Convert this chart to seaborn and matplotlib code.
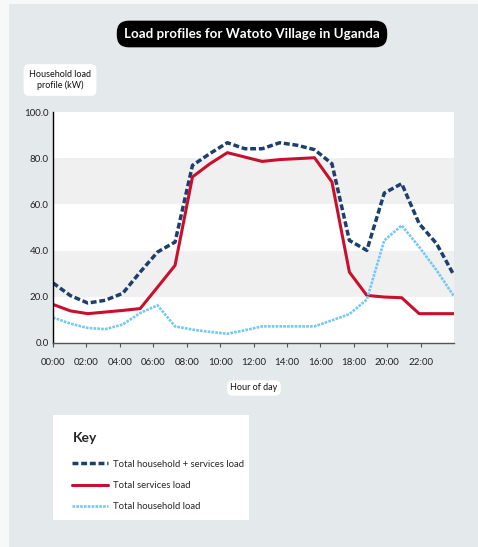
import matplotlib.pyplot as plt
import seaborn as sns
import pandas as pd
from matplotlib.patches import Rectangle

# ---------------- data ---------------- #
hours = list(range(24))
total_load = [26.0, 20.5, 17.3, 18.5, 21.5, 30.7, 39.4, 43.7, 76.9, 82.0, 86.7, 84.1,
              84.1, 86.7, 85.6, 83.7, 77.6, 44.4, 40.1, 64.9, 69.0, 51.7, 43.0, 29.3]
services_load = [16.7, 13.9, 12.7, 13.4, 14.1, 14.9, 24.2, 33.6, 71.9, 77.6, 82.4, 80.5,
                 78.6, 79.4, 79.8, 80.2, 69.7, 30.7, 20.6, 19.9, 19.6, 12.7, 12.7, 12.7]
household_load = [11.0, 8.4, 6.5, 6.0, 8.0, 13.0, 16.3, 7.2, 5.8, 4.8, 4.0, 5.5,
                  7.2, 7.2, 7.2, 7.2, 9.8, 12.5, 18.8, 44.4, 50.9, 41.6, 31.5, 20.2]
tick_labels = ["00:00", "02:00", "04:00", "06:00", "08:00", "10:00",
               "12:00", "14:00", "16:00", "18:00", "20:00", "22:00"]
y_ticks = [0, 20, 40, 60, 80, 100]
series_names = ["Total household + services load", "Total services load", "Total household load"]

df = pd.DataFrame({"hour": hours, series_names[0]: total_load,
                   series_names[1]: services_load, series_names[2]: household_load})

sns.set_style("white")
plt.rcParams["font.family"] = ["Lato", "DejaVu Sans"]

PANEL = "#e4e9ec"
NAVY = "#1d3f6e"
RED = "#c8102e"
LIGHT = "#74c8f4"

fig = plt.figure(figsize=(4.78, 5.47), dpi=100)
fig.patch.set_facecolor("#f7f8f8")
fig.patches.append(Rectangle((9/478, 0), 1, 1 - 4/547, transform=fig.transFigure,
                             facecolor=PANEL, edgecolor="none", zorder=-5))

ax = fig.add_axes([53/478, 1 - 343/547, 401/478, 231/547])
ax.set_facecolor("white")
for lo in (20, 60):
    ax.axhspan(lo, lo + 20, color="#f0f0f0", zorder=0, lw=0)

sns.lineplot(data=df, x="hour", y=series_names[0], ax=ax, color=NAVY, lw=2.5,
             linestyle=(0, (1.7, 0.8)), label=series_names[0])
sns.lineplot(data=df, x="hour", y=series_names[1], ax=ax, color=RED, lw=2.2,
             label=series_names[1])
sns.lineplot(data=df, x="hour", y=series_names[2], ax=ax, color=LIGHT, lw=1.9,
             linestyle=(0, (1.0, 0.45)), label=series_names[2])

ax.set_xlim(0, 23)
ax.set_ylim(0, 100)
ax.set_xticks([k * 23 / 12 for k in range(12)])
ax.set_xticklabels(tick_labels, fontsize=7, color="#222222")
ax.set_yticks(y_ticks)
ax.set_yticklabels([f"{v:.1f}" for v in y_ticks], fontsize=7, color="#222222")
ax.tick_params(axis="x", length=3, width=0.8, color="#555555", pad=8, direction="out", bottom=True)
ax.tick_params(axis="y", length=0, pad=3)
ax.set_xlabel("")
ax.set_ylabel("")
for side in ("top", "right"):
    ax.spines[side].set_visible(False)
ax.spines["left"].set_color("black")
ax.spines["left"].set_linewidth(1.0)
ax.spines["bottom"].set_color("#555555")
ax.spines["bottom"].set_linewidth(1.0)
handles, labels = ax.get_legend_handles_labels()
ax.get_legend().remove()

# title pill
fig.text(252/478, 1 - 34/547, "Load profiles for Watoto Village in Uganda", ha="center", va="center",
         fontsize=9.6, fontweight="bold", color="white",
         bbox=dict(boxstyle="round,pad=0.55,rounding_size=0.9", fc="black", ec="none"))

# axis label boxes
fig.text(60/478, 1 - 80/547, "Household load\nprofile (kW)", ha="center", va="center",
         fontsize=6.5, color="#111111", linespacing=1.3,
         bbox=dict(boxstyle="round,pad=0.6,rounding_size=0.6", fc="white", ec="none"))
fig.text(254/478, 1 - 388/547, "Hour of day", ha="center", va="center",
         fontsize=6.5, color="#111111",
         bbox=dict(boxstyle="round,pad=0.35,rounding_size=0.6", fc="white", ec="none"))

# key box
kax = fig.add_axes([53/478, 1 - 520/547, 196/478, 105/547])
kax.set_facecolor("white")
kax.set_xticks([])
kax.set_yticks([])
for s in kax.spines.values():
    s.set_visible(False)
leg = kax.legend(handles, labels, loc="upper left", bbox_to_anchor=(0.08, 0.87), frameon=False,
                 title="Key", alignment="left", fontsize=6.8, handlelength=3.8,
                 handletextpad=0.5, labelspacing=1.3, borderaxespad=0)
leg.get_title().set_fontsize(10)
leg.get_title().set_fontweight("bold")
leg._legend_box.sep = 11

fig.savefig("out.png", dpi=100, facecolor=fig.get_facecolor())
